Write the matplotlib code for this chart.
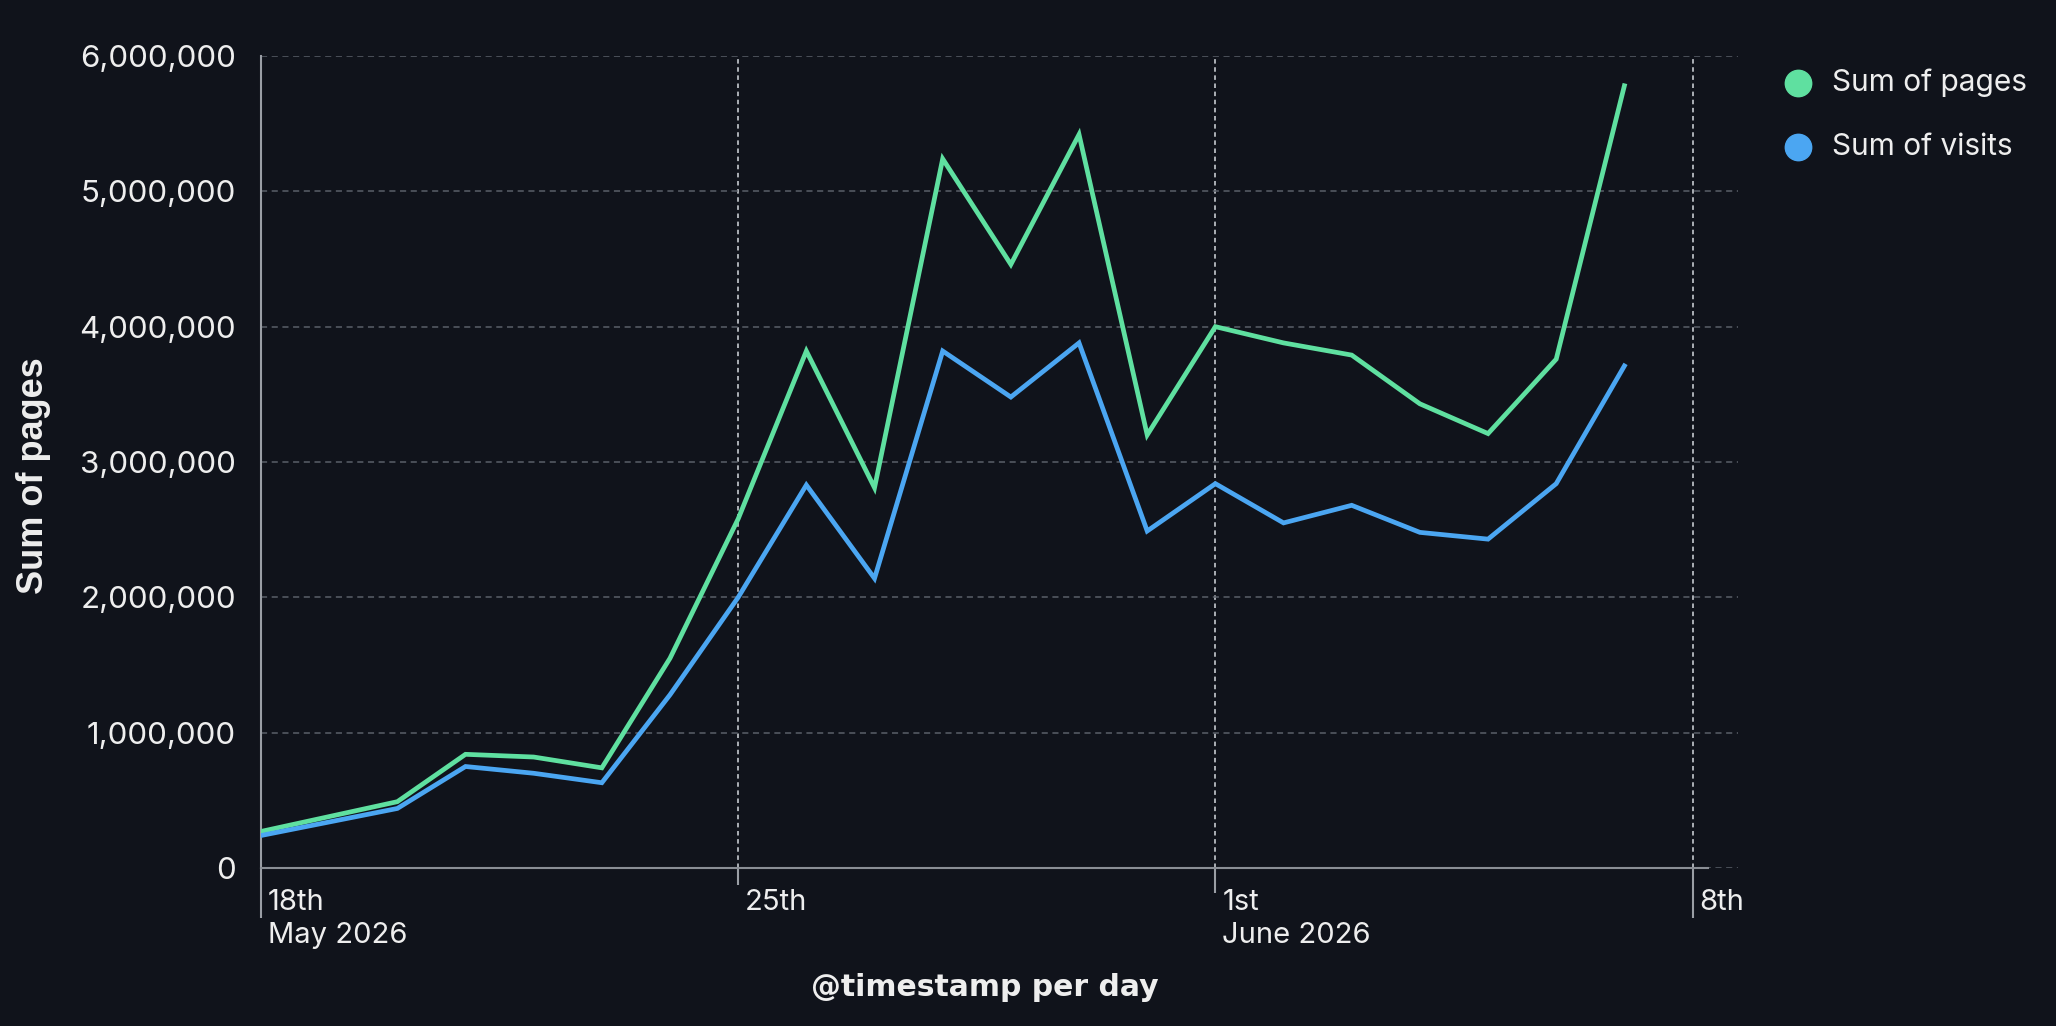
import datetime as dt
import matplotlib
matplotlib.use('Agg')
import matplotlib.pyplot as plt
import matplotlib.dates as mdates
import matplotlib.ticker as mticker
from matplotlib.lines import Line2D
from matplotlib.transforms import ScaledTranslation

days = ['2026-05-18', '2026-05-20', '2026-05-21', '2026-05-22', '2026-05-23',
        '2026-05-24', '2026-05-25', '2026-05-26', '2026-05-27', '2026-05-28',
        '2026-05-29', '2026-05-30', '2026-05-31', '2026-06-01', '2026-06-02',
        '2026-06-03', '2026-06-04', '2026-06-05', '2026-06-06', '2026-06-07']
pages = [270000, 490000, 840000, 820000, 740000, 1550000, 2580000, 3820000,
         2810000, 5240000, 4460000, 5420000, 3200000, 4000000, 3880000,
         3790000, 3430000, 3210000, 3760000, 5780000]
visits = [240000, 440000, 750000, 700000, 630000, 1280000, 2000000, 2830000,
          2140000, 3820000, 3480000, 3880000, 2490000, 2840000, 2550000,
          2680000, 2480000, 2430000, 2840000, 3710000]
series_names = ['Sum of pages', 'Sum of visits']
tick_days = ['2026-05-18', '2026-05-25', '2026-06-01', '2026-06-08']
tick_labels = ['18th\nMay 2026', '25th', '1st\nJune 2026', '8th']

BG = '#10131b'
GREEN = '#5fe0a0'
BLUE = '#4ba6f2'
TXT = '#eeeeee'

x = [dt.datetime.strptime(d, '%Y-%m-%d') for d in days]
tx = [dt.datetime.strptime(d, '%Y-%m-%d') for d in tick_days]

fig = plt.figure(figsize=(20.56, 10.26), dpi=100, facecolor=BG)
ax = fig.add_axes([261 / 2056, 1 - 868 / 1026, (1738 - 261) / 2056, (868 - 56) / 1026])
ax.set_facecolor(BG)

ax.plot(x, pages, color=GREEN, lw=3.4, solid_joinstyle='miter', zorder=3)
ax.plot(x, visits, color=BLUE, lw=3.4, solid_joinstyle='miter', zorder=3)

ax.set_ylim(0, 6000000)
ax.set_xlim(tx[0], tx[-1] + dt.timedelta(hours=16))

ax.yaxis.set_major_locator(mticker.MultipleLocator(1000000))
ax.yaxis.set_major_formatter(mticker.FuncFormatter(lambda v, p: f'{v:,.0f}'))
ax.grid(axis='y', color='#5a5f68', ls=(0, (4, 3)), lw=1.1)

ax.set_xticks(mdates.date2num(tx))
ax.set_xticklabels(tick_labels)
for xv in tx[1:]:
    ax.axvline(xv, color='#b8bcc2', ls=(0, (2.5, 2)), lw=1.3, zorder=1)

for s in ['top', 'right']:
    ax.spines[s].set_visible(False)
ax.spines['left'].set_color('#9a9ea5')
ax.spines['bottom'].set_color('#8a8e95')
ax.spines['left'].set_linewidth(1.5)
ax.spines['bottom'].set_linewidth(1.5)
ax.spines['bottom'].set_bounds(mdates.date2num(tx[0]), mdates.date2num(tx[-1]) + 0.22)

ax.tick_params(axis='y', length=0, pad=18, labelsize=22.5, labelcolor=TXT)
ax.tick_params(axis='x', length=36, width=1.5, color='#9a9ea5', pad=-21,
               labelsize=21, labelcolor=TXT)
for lab in ax.get_yticklabels():
    lab.set_family('Inter')
offset = ScaledTranslation(7 / 100, 0, fig.dpi_scale_trans)
for lab in ax.get_xticklabels():
    lab.set_family('Inter')
    lab.set_horizontalalignment('left')
    lab.set_verticalalignment('top')
    lab.set_linespacing(1.3)
    lab.set_transform(lab.get_transform() + offset)
ticks = ax.xaxis.get_major_ticks()
ticks[1].tick1line.set_markersize(12)
ticks[2].tick1line.set_markersize(18)
ticks[1].tick1line.set_color('#666a72')
ticks[2].tick1line.set_color('#666a72')

fig.text(34 / 2056, 1 - 476 / 1026, 'Sum of pages', rotation=90, ha='center', va='center',
         color=TXT, fontsize=26, fontweight='bold',
         family=['Liberation Sans Narrow', 'Liberation Sans'])
fig.text(985 / 2056, 1 - 987 / 1026, '@timestamp per day', ha='center', va='center',
         color=TXT, fontsize=21.5, fontweight='bold', family='DejaVu Sans')

# legend drawn by hand: dot + label
for i, (name, col) in enumerate(zip(series_names, [GREEN, BLUE])):
    yy = 1 - (83 + 64 * i) / 1026
    fig.add_artist(Line2D([1798 / 2056], [yy], ls='', marker='o', ms=19, color=col,
                          transform=fig.transFigure))
    fig.text(1832 / 2056, yy, name, ha='left', va='center', color=TXT,
             fontsize=21.5, family='Inter')

fig.savefig('out.png', dpi=100, facecolor=BG)
